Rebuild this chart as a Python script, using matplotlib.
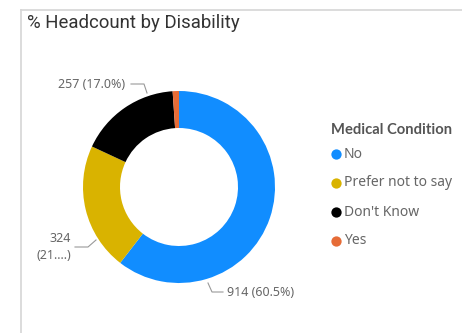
import matplotlib
matplotlib.use("Agg")
import matplotlib.pyplot as plt
import numpy as np

categories = ["No", "Prefer not to say", "Don't Know", "Yes"]
values = [914, 324, 257, 16]
colors = ["#118DFF", "#D9B300", "#000000", "#E66C37"]
label_texts = ["914 (60.5%)", "324\n(21....)", "257 (17.0%)", None]
legend_title = "Medical Condition"
title = "% Headcount by Disability"

W, H = 462, 333
fig = plt.figure(figsize=(W / 100, H / 100), dpi=100)
ax = fig.add_axes([0, 0, 1, 1])
ax.set_xlim(0, W)
ax.set_ylim(0, H)
ax.axis("off")

def Y(py):
    return H - py

# frame lines
ax.plot([21, W], [Y(10), Y(10)], color="#d6d6d6", lw=1.2)
ax.plot([21, 21], [Y(10), 0], color="#d6d6d6", lw=1.2)

ax.text(27, Y(23), title, fontsize=13.4, color="#333333", family="Roboto",
        va="center", ha="left")

cx, cy, R, r = 179, 187, 96, 59
ax.pie(values, colors=colors, startangle=90, counterclock=False,
       center=(cx, Y(cy)), radius=R, wedgeprops=dict(width=R - r, linewidth=0),
       frame=False)
ax.set_xlim(0, W)
ax.set_ylim(0, H)
ax.set_aspect("auto")

lc = "#999999"
tc = "#666666"
fs = 9
fam = "Noto Sans"
# 257 label
ax.plot([131, 144, 147], [Y(84), Y(84), Y(93)], color=lc, lw=0.8)
ax.text(125, Y(85), label_texts[2], fontsize=fs, color=tc, family=fam, ha="right", va="center")
# 324 label
ax.plot([75, 88, 96], [Y(247), Y(247), Y(240)], color=lc, lw=0.8)
ax.text(71, Y(247), label_texts[1], fontsize=fs, color=tc, family=fam, ha="right", va="center",
        linespacing=1.45)
# 914 label
ax.plot([208, 212, 223], [Y(283), Y(292), Y(292)], color=lc, lw=0.8)
ax.text(227, Y(292), label_texts[0], fontsize=fs, color=tc, family=fam, ha="left", va="center")

# legend
ax.text(331, Y(130), legend_title, fontsize=10.6, color="#555555", family="Lato",
        fontweight="bold", ha="left", va="center")
for i, (c, col) in enumerate(zip(categories, colors)):
    yy = 154 + i * 29
    ax.scatter([336], [Y(yy)], s=55, color=col, zorder=3, linewidths=0)
    ax.text(344, Y(yy), c, fontsize=10, color=tc, family=fam, ha="left", va="center")

fig.savefig("out.png", dpi=100, facecolor="white")
